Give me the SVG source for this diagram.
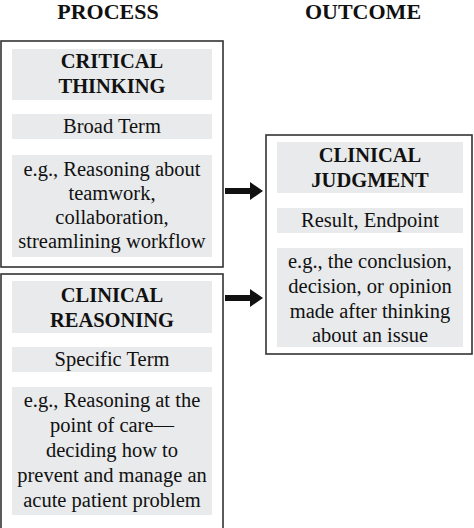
<svg xmlns="http://www.w3.org/2000/svg" width="474" height="528" viewBox="0 0 474 528">
<style>
.outer{fill:#fff;stroke:#333;stroke-width:1.6}
.inner{fill:#e8eaeb}
text{font-family:"Liberation Serif","Times New Roman",serif;fill:#111;text-anchor:middle}
.hdr{font-size:22px;font-weight:bold}
.ttl{font-size:20.5px;font-weight:bold}
.txt{font-size:20.5px}
.conn{stroke:#111;stroke-width:6;fill:none}
</style>
<defs>
<marker id="ah" markerUnits="userSpaceOnUse" markerWidth="14" markerHeight="20" refX="0" refY="10" orient="auto">
<path d="M0,1 L13,10 L0,19 Z" fill="#111"/>
</marker>
</defs>
<rect width="474" height="528" fill="#fff"/>
<g id="headers">
<text class="hdr" x="108" y="19">PROCESS</text>
<text class="hdr" x="363" y="19">OUTCOME</text>
</g>
<g id="critical-thinking">
<rect class="outer" x="1" y="41" width="222" height="226"/>
<rect class="inner" x="12" y="49" width="200" height="51"/>
<text class="ttl" x="112" y="68">CRITICAL</text>
<text class="ttl" x="112" y="93">THINKING</text>
<rect class="inner" x="12" y="114" width="200" height="25"/>
<text class="txt" x="112" y="133">Broad Term</text>
<rect class="inner" x="12" y="155" width="200" height="102"/>
<text class="txt" x="112" y="176">e.g., Reasoning about</text>
<text class="txt" x="112" y="200">teamwork,</text>
<text class="txt" x="112" y="224">collaboration,</text>
<text class="txt" x="112" y="248">streamlining workflow</text>
</g>
<g id="clinical-reasoning">
<rect class="outer" x="1" y="274" width="222" height="264"/>
<rect class="inner" x="12" y="281" width="200" height="52"/>
<text class="ttl" x="112" y="302">CLINICAL</text>
<text class="ttl" x="112" y="327">REASONING</text>
<rect class="inner" x="12" y="347" width="200" height="25"/>
<text class="txt" x="112" y="366">Specific Term</text>
<rect class="inner" x="12" y="387" width="200" height="128"/>
<text class="txt" x="112" y="407">e.g., Reasoning at the</text>
<text class="txt" x="112" y="432">point of care—</text>
<text class="txt" x="112" y="457">deciding how to</text>
<text class="txt" x="112" y="482">prevent and manage an</text>
<text class="txt" x="112" y="507">acute patient problem</text>
</g>
<g id="clinical-judgment">
<rect class="outer" x="266" y="135" width="206" height="219"/>
<rect class="inner" x="277" y="142" width="186" height="51"/>
<text class="ttl" x="370" y="162">CLINICAL</text>
<text class="ttl" x="370" y="187">JUDGMENT</text>
<rect class="inner" x="277" y="208" width="186" height="25"/>
<text class="txt" x="370" y="227">Result, Endpoint</text>
<rect class="inner" x="277" y="248" width="186" height="99"/>
<text class="txt" x="370" y="268">e.g., the conclusion,</text>
<text class="txt" x="370" y="293">decision, or opinion</text>
<text class="txt" x="370" y="318">made after thinking</text>
<text class="txt" x="370" y="342">about an issue</text>
</g>
<g id="connectors">
<line class="conn" x1="225" y1="191" x2="250" y2="191" marker-end="url(#ah)"/>
<line class="conn" x1="225" y1="298" x2="250" y2="298" marker-end="url(#ah)"/>
</g>
</svg>
